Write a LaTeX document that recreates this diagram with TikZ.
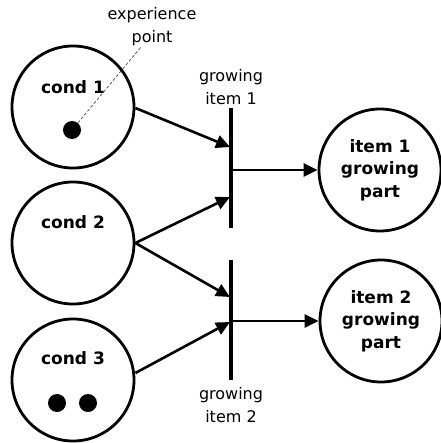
\documentclass[tikz,border=0pt]{standalone}
\usepackage{fontspec}
\setmainfont{DejaVu Sans}
\usetikzlibrary{arrows.meta}

\begin{document}
\begin{tikzpicture}[x=1pt,y=-1pt,
    place/.style={draw,circle,line width=2.8pt,minimum size=122pt,inner sep=0pt,
      font=\fontsize{17}{22.5}\selectfont\bfseries,align=center},
    token/.style={fill,circle,inner sep=0pt,minimum size=18pt},
    bar/.style={line width=3.8pt},
    arc/.style={line width=2.6pt,-{Triangle[length=14pt,width=13pt]}},
    lbl/.style={font=\fontsize{16}{23}\selectfont,align=center}]
\useasboundingbox (0,0) rectangle (440,443);

% conditions
\node[place] (c1) at (73,107) {};
\node[place] (c2) at (73,243) {};
\node[place] (c3) at (73,380) {};
\node at (73,87) {\fontsize{17}{22}\selectfont\bfseries cond 1};
\node at (73,222) {\fontsize{17}{22}\selectfont\bfseries cond 2};
\node at (73,358) {\fontsize{17}{22}\selectfont\bfseries cond 3};

% tokens
\node[token] (t1) at (72,130) {};
\node[token] (t2) at (57,403) {};
\node[token] (t3) at (88,403) {};

\node[lbl] (ep) at (152,27) {experience\\point};
\draw[dash pattern=on 3pt off 2pt,line width=0.7pt,black!70] (t1) -- (141,47);

% transitions
\coordinate (g1top) at (231,108);
\coordinate (g1bot) at (231,228);
\coordinate (g2top) at (231,260);
\coordinate (g2bot) at (231,380);
\draw[bar] (g1top) -- (g1bot);
\draw[bar] (g2top) -- (g2bot);
\node[lbl] (g1) at (231,87) {growing\\item 1};
\node[lbl] (g2) at (231,405) {growing\\item 2};

% growing parts
\node[place] (p1) at (380,170) {item 1\\growing\\part};
\node[place] (p2) at (381,321) {item 2\\growing\\part};

% arcs
\coordinate (in1a) at (230,147);
\coordinate (in1b) at (230,197);
\coordinate (in2a) at (230,297);
\coordinate (in2b) at (230,322);
\draw[arc] (c1.east |- 0,108) -- (in1a);
\draw[arc] (c2.east) -- (in1b);
\draw[arc] (c2.east) -- (in2a);
\draw[arc] (c3.east |- 0,373) -- (in2b);
\draw[arc] (231,170) -- (p1);
\draw[arc] (231,321) -- (p2);
\end{tikzpicture}
\end{document}
